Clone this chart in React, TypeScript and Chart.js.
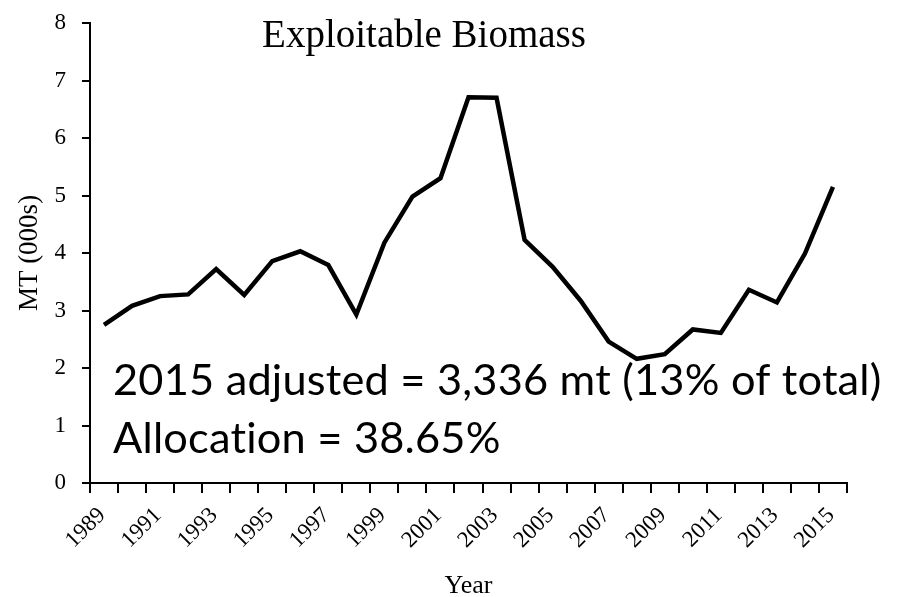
import React, { useEffect, useRef } from "react";
import { Chart, registerables } from "chart.js";

Chart.register(...registerables);

const years = [
  "1989", "1990", "1991", "1992", "1993", "1994", "1995", "1996", "1997",
  "1998", "1999", "2000", "2001", "2002", "2003", "2004", "2005", "2006",
  "2007", "2008", "2009", "2010", "2011", "2012", "2013", "2014", "2015",
];

const biomass = [
  2.75, 3.08, 3.25, 3.28, 3.72, 3.27, 3.86, 4.03, 3.79, 2.93, 4.18, 4.98,
  5.3, 6.71, 6.7, 4.23, 3.76, 3.17, 2.46, 2.16, 2.24, 2.67, 2.61, 3.36,
  3.14, 3.99, 5.15,
];

const yTicks = [0, 1, 2, 3, 4, 5, 6, 7, 8];

const chartTitle = "Exploitable Biomass";
const yTitle = "MT (000s)";
const xTitle = "Year";
const noteLines = ["2015 adjusted = 3,336 mt (13% of total)", "Allocation = 38.65%"];

const SERIF = '"Liberation Serif", "Times New Roman", serif';
const SANS = 'Lato, "Noto Sans", sans-serif';

const textPlugin = {
  id: "textPlugin",
  afterDraw(chart: any) {
    const { ctx, chartArea } = chart;
    ctx.save();
    ctx.fillStyle = "#000";
    // title
    ctx.font = `39px ${SERIF}`;
    ctx.textAlign = "center";
    ctx.textBaseline = "alphabetic";
    ctx.fillText(chartTitle, chartArea.left + 334, chartArea.top + 24);
    // annotation
    ctx.textAlign = "left";
    try {
      (ctx as any).letterSpacing = "0.2px";
      (ctx as any).textRendering = "optimizeSpeed";
    } catch (e) {}
    const targetW = 769;
    let size = 42;
    ctx.font = `${size}px ${SANS}`;
    const w = ctx.measureText(noteLines[0]).width;
    size = (size * targetW) / w;
    ctx.font = `${size}px ${SANS}`;
    ctx.fillText(noteLines[0], chartArea.left + 23, chartArea.top + 372);
    ctx.fillText(noteLines[1], chartArea.left + 23, chartArea.top + 430);
    ctx.restore();
  },
};

export default function App() {
  const ref = useRef<HTMLCanvasElement | null>(null);

  useEffect(() => {
    if (!ref.current) return;
    const chart = new Chart(ref.current, {
      type: "line",
      data: {
        labels: years,
        datasets: [
          {
            data: biomass,
            borderColor: "#000",
            borderWidth: 4.5,
            pointRadius: 0,
            tension: 0,
            fill: false,
            borderJoinStyle: "miter",
          },
        ],
      },
      options: {
        animation: false,
        responsive: false,
        devicePixelRatio: 1,
        layout: { padding: { top: 23, right: 50, left: 0, bottom: 0 } },
        plugins: {
          legend: { display: false },
          title: { display: false },
          tooltip: { enabled: false },
        },
        scales: {
          x: {
            type: "category",
            offset: true,
            afterFit: (s: any) => {
              s.height = 114;
              s.paddingLeft = 0;
              s.paddingRight = 0;
            },
            grid: {
              offset: true,
              drawOnChartArea: false,
              drawTicks: true,
              tickLength: 10,
              color: "#000",
              lineWidth: 2,
            },
            border: { display: true, color: "#000", width: 2 },
            ticks: {
              autoSkip: false,
              maxRotation: 45,
              minRotation: 45,
              padding: 9,
              labelOffset: -2,
              color: "#000",
              font: { family: SERIF, size: 23 },
              callback: (_v: any, i: number) => (i % 2 === 0 ? years[i] : ""),
            },
            title: {
              display: true,
              text: xTitle,
              color: "#000",
              font: { family: SERIF, size: 26, lineHeight: 0.8 },
              padding: { top: 0, bottom: 0 },
            },
          },
          y: {
            min: 0,
            max: 8,
            afterFit: (s: any) => {
              s.width = 90;
              s.paddingTop = 0;
              s.paddingBottom = 0;
            },
            afterBuildTicks: (s: any) => {
              s.ticks = yTicks.map((v) => ({ value: v }));
            },
            grid: {
              drawOnChartArea: false,
              drawTicks: true,
              tickLength: 8,
              color: "#000",
              lineWidth: 2,
            },
            border: { display: true, color: "#000", width: 2 },
            ticks: {
              padding: 16,
              color: "#000",
              font: { family: SERIF, size: 23 },
            },
            title: {
              display: true,
              text: yTitle,
              color: "#000",
              font: { family: SERIF, size: 27, lineHeight: 1.2 },
              padding: { top: 14, bottom: 0 },
            },
          },
        },
      },
      plugins: [textPlugin],
    } as any);
    return () => chart.destroy();
  }, []);

  return (
    <div style={{ position: "absolute", left: 0, top: 0, width: 897, height: 597, background: "#fff" }}>
      <canvas ref={ref} width={897} height={597} style={{ display: "block" }} />
    </div>
  );
}
